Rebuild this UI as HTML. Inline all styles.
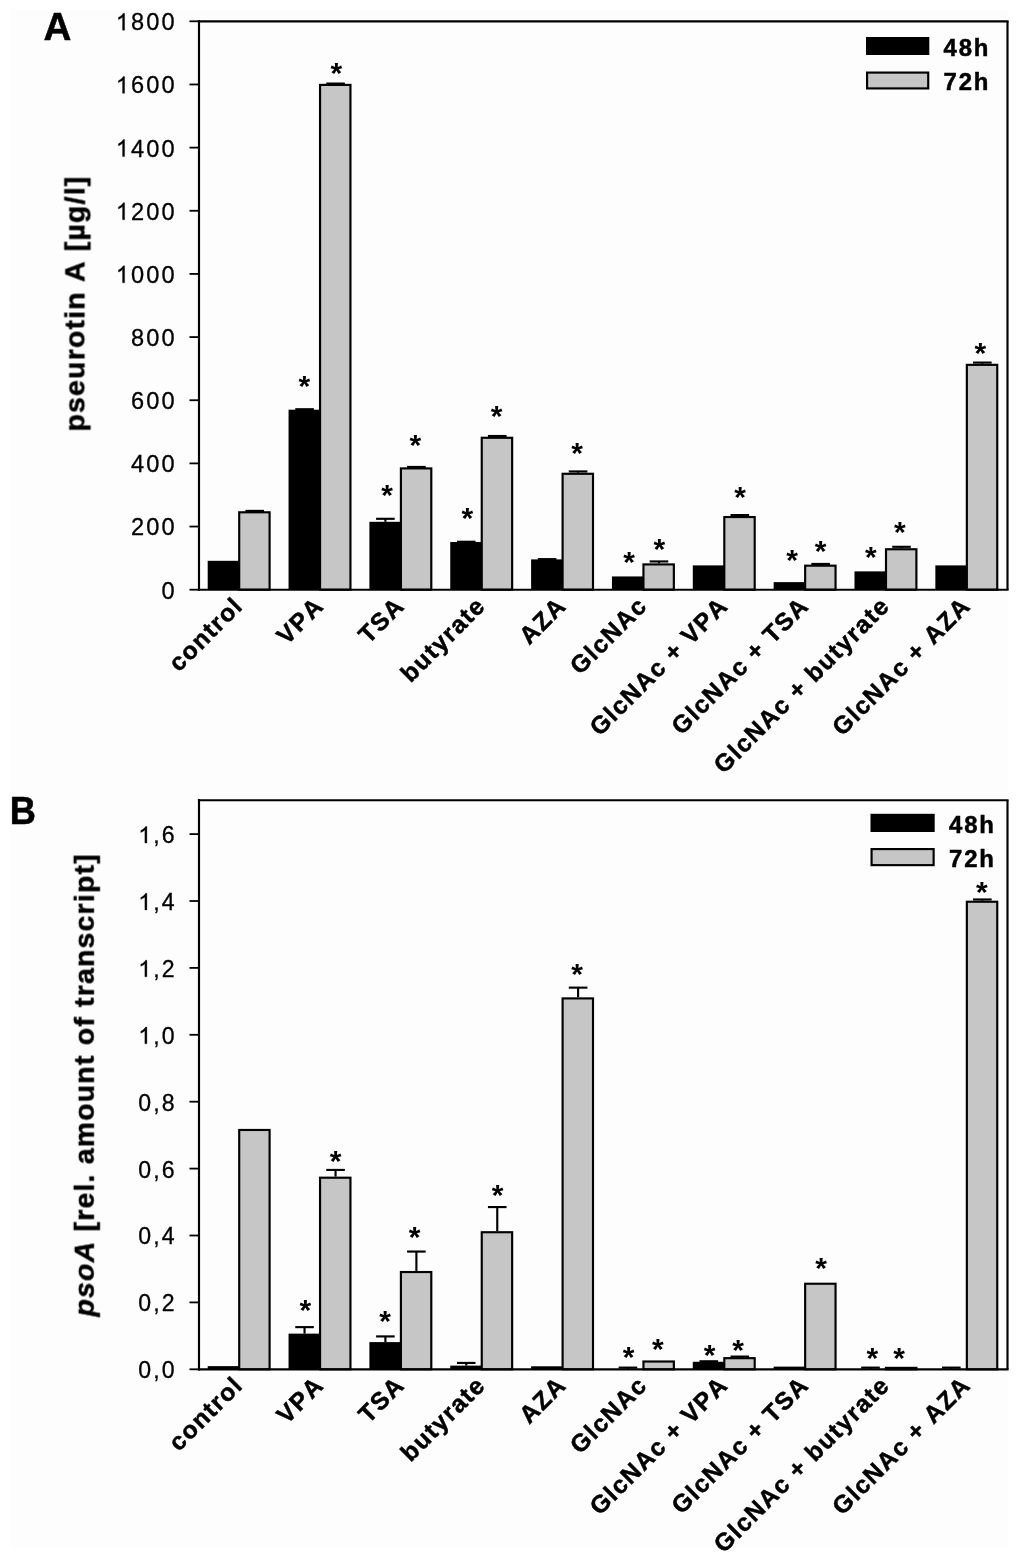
<!DOCTYPE html>
<html><head><meta charset="utf-8"><title>Figure</title>
<style>html,body{margin:0;padding:0;background:#fff;}svg{display:block;}</style>
</head><body>
<svg width="1024" height="1557" viewBox="0 0 1024 1557" font-family="'Liberation Sans', sans-serif" fill="#000" style="font-kerning:none">
<rect x="0" y="0" width="1024" height="1557" fill="#fff"/>
<rect x="9.4" y="9" width="999.2" height="1539.4" fill="#fdfdfd"/>
<defs><filter id="b" x="0" y="0" width="1024" height="1557" filterUnits="userSpaceOnUse"><feGaussianBlur stdDeviation="0.5"/></filter></defs>
<g filter="url(#b)">
<rect x="207.70" y="560.81" width="32.2" height="28.89" fill="#000"/>
<rect x="239.20" y="512.30" width="30.40" height="77.40" fill="#c6c6c6" stroke="#000" stroke-width="2.15"/>
<line x1="254.70" y1="511.23" x2="254.70" y2="510.91" stroke="#000" stroke-width="2.15"/>
<line x1="245.40" y1="510.91" x2="264.00" y2="510.91" stroke="#000" stroke-width="2.15"/>
<rect x="288.55" y="409.71" width="32.2" height="179.99" fill="#000"/>
<rect x="320.05" y="84.90" width="30.40" height="504.80" fill="#c6c6c6" stroke="#000" stroke-width="2.15"/>
<line x1="304.55" y1="409.71" x2="304.55" y2="409.23" stroke="#000" stroke-width="2.15"/>
<line x1="295.25" y1="409.23" x2="313.85" y2="409.23" stroke="#000" stroke-width="2.15"/>
<line x1="335.55" y1="83.82" x2="335.55" y2="83.57" stroke="#000" stroke-width="2.15"/>
<line x1="326.25" y1="83.57" x2="344.85" y2="83.57" stroke="#000" stroke-width="2.15"/>
<rect x="369.40" y="521.81" width="32.2" height="67.89" fill="#000"/>
<rect x="400.90" y="468.41" width="30.40" height="121.29" fill="#c6c6c6" stroke="#000" stroke-width="2.15"/>
<line x1="385.40" y1="521.81" x2="385.40" y2="518.81" stroke="#000" stroke-width="2.15"/>
<line x1="376.10" y1="518.81" x2="394.70" y2="518.81" stroke="#000" stroke-width="2.15"/>
<line x1="416.40" y1="467.34" x2="416.40" y2="466.96" stroke="#000" stroke-width="2.15"/>
<line x1="407.10" y1="466.96" x2="425.70" y2="466.96" stroke="#000" stroke-width="2.15"/>
<rect x="450.25" y="542.02" width="32.2" height="47.68" fill="#000"/>
<rect x="481.75" y="437.78" width="30.40" height="151.92" fill="#c6c6c6" stroke="#000" stroke-width="2.15"/>
<line x1="466.25" y1="542.02" x2="466.25" y2="541.76" stroke="#000" stroke-width="2.15"/>
<line x1="456.95" y1="541.76" x2="475.55" y2="541.76" stroke="#000" stroke-width="2.15"/>
<line x1="497.25" y1="436.71" x2="497.25" y2="436.01" stroke="#000" stroke-width="2.15"/>
<line x1="487.95" y1="436.01" x2="506.55" y2="436.01" stroke="#000" stroke-width="2.15"/>
<rect x="531.10" y="559.39" width="32.2" height="30.31" fill="#000"/>
<rect x="562.60" y="473.78" width="30.40" height="115.92" fill="#c6c6c6" stroke="#000" stroke-width="2.15"/>
<line x1="547.10" y1="559.39" x2="547.10" y2="559.13" stroke="#000" stroke-width="2.15"/>
<line x1="537.80" y1="559.13" x2="556.40" y2="559.13" stroke="#000" stroke-width="2.15"/>
<line x1="578.10" y1="472.70" x2="578.10" y2="471.44" stroke="#000" stroke-width="2.15"/>
<line x1="568.80" y1="471.44" x2="587.40" y2="471.44" stroke="#000" stroke-width="2.15"/>
<rect x="611.95" y="576.44" width="32.2" height="13.26" fill="#000"/>
<rect x="643.45" y="564.41" width="30.40" height="25.29" fill="#c6c6c6" stroke="#000" stroke-width="2.15"/>
<line x1="658.95" y1="563.33" x2="658.95" y2="561.44" stroke="#000" stroke-width="2.15"/>
<line x1="649.65" y1="561.44" x2="668.25" y2="561.44" stroke="#000" stroke-width="2.15"/>
<rect x="692.80" y="565.39" width="32.2" height="24.31" fill="#000"/>
<rect x="724.30" y="517.04" width="30.40" height="72.66" fill="#c6c6c6" stroke="#000" stroke-width="2.15"/>
<line x1="739.80" y1="515.97" x2="739.80" y2="515.08" stroke="#000" stroke-width="2.15"/>
<line x1="730.50" y1="515.08" x2="749.10" y2="515.08" stroke="#000" stroke-width="2.15"/>
<rect x="773.65" y="582.12" width="32.2" height="7.58" fill="#000"/>
<rect x="805.15" y="565.67" width="30.40" height="24.03" fill="#c6c6c6" stroke="#000" stroke-width="2.15"/>
<line x1="820.65" y1="564.60" x2="820.65" y2="563.96" stroke="#000" stroke-width="2.15"/>
<line x1="811.35" y1="563.96" x2="829.95" y2="563.96" stroke="#000" stroke-width="2.15"/>
<rect x="854.50" y="571.38" width="32.2" height="18.32" fill="#000"/>
<rect x="886.00" y="549.25" width="30.40" height="40.45" fill="#c6c6c6" stroke="#000" stroke-width="2.15"/>
<line x1="901.50" y1="548.18" x2="901.50" y2="546.82" stroke="#000" stroke-width="2.15"/>
<line x1="892.20" y1="546.82" x2="910.80" y2="546.82" stroke="#000" stroke-width="2.15"/>
<rect x="935.35" y="565.39" width="32.2" height="24.31" fill="#000"/>
<rect x="966.85" y="364.84" width="30.40" height="224.86" fill="#c6c6c6" stroke="#000" stroke-width="2.15"/>
<line x1="982.35" y1="363.76" x2="982.35" y2="362.59" stroke="#000" stroke-width="2.15"/>
<line x1="973.05" y1="362.59" x2="991.65" y2="362.59" stroke="#000" stroke-width="2.15"/>
<text x="304.30" y="395.90" font-size="30" font-weight="bold" text-anchor="middle">*</text>
<text x="387.20" y="505.30" font-size="30" font-weight="bold" text-anchor="middle">*</text>
<text x="467.30" y="528.20" font-size="30" font-weight="bold" text-anchor="middle">*</text>
<text x="629.00" y="572.10" font-size="30" font-weight="bold" text-anchor="middle">*</text>
<text x="792.20" y="570.20" font-size="30" font-weight="bold" text-anchor="middle">*</text>
<text x="870.80" y="567.30" font-size="30" font-weight="bold" text-anchor="middle">*</text>
<text x="336.30" y="83.20" font-size="30" font-weight="bold" text-anchor="middle">*</text>
<text x="415.30" y="454.60" font-size="30" font-weight="bold" text-anchor="middle">*</text>
<text x="496.70" y="426.30" font-size="30" font-weight="bold" text-anchor="middle">*</text>
<text x="577.20" y="463.40" font-size="30" font-weight="bold" text-anchor="middle">*</text>
<text x="659.30" y="558.70" font-size="30" font-weight="bold" text-anchor="middle">*</text>
<text x="740.20" y="507.30" font-size="30" font-weight="bold" text-anchor="middle">*</text>
<text x="820.70" y="560.70" font-size="30" font-weight="bold" text-anchor="middle">*</text>
<text x="899.90" y="542.30" font-size="30" font-weight="bold" text-anchor="middle">*</text>
<text x="980.30" y="363.30" font-size="30" font-weight="bold" text-anchor="middle">*</text>
<line x1="199.00" y1="20.23" x2="199.00" y2="590.78" stroke="#000" stroke-width="2.15"/>
<line x1="197.93" y1="589.70" x2="1008.58" y2="589.70" stroke="#000" stroke-width="2.15"/>
<line x1="189.50" y1="589.70" x2="199.00" y2="589.70" stroke="#000" stroke-width="1.8"/>
<line x1="197.93" y1="21.30" x2="1008.58" y2="21.30" stroke="#000" stroke-width="2.15"/>
<line x1="189.50" y1="21.30" x2="199.00" y2="21.30" stroke="#000" stroke-width="1.8"/>
<line x1="1007.50" y1="21.30" x2="1007.50" y2="589.70" stroke="#000" stroke-width="2.15"/>
<text x="161.48" y="598.60" font-size="23.6" stroke="#000" stroke-width="0.3">0</text>
<line x1="189.50" y1="526.54" x2="199.00" y2="526.54" stroke="#000" stroke-width="1.8"/>
<text x="161.48" y="535.44" font-size="23.6" stroke="#000" stroke-width="0.3">0</text>
<text x="146.26" y="535.44" font-size="23.6" stroke="#000" stroke-width="0.3">0</text>
<text x="131.04" y="535.44" font-size="23.6" stroke="#000" stroke-width="0.3">2</text>
<line x1="189.50" y1="463.39" x2="199.00" y2="463.39" stroke="#000" stroke-width="1.8"/>
<text x="161.48" y="472.29" font-size="23.6" stroke="#000" stroke-width="0.3">0</text>
<text x="146.26" y="472.29" font-size="23.6" stroke="#000" stroke-width="0.3">0</text>
<text x="131.04" y="472.29" font-size="23.6" stroke="#000" stroke-width="0.3">4</text>
<line x1="189.50" y1="400.23" x2="199.00" y2="400.23" stroke="#000" stroke-width="1.8"/>
<text x="161.48" y="409.13" font-size="23.6" stroke="#000" stroke-width="0.3">0</text>
<text x="146.26" y="409.13" font-size="23.6" stroke="#000" stroke-width="0.3">0</text>
<text x="131.04" y="409.13" font-size="23.6" stroke="#000" stroke-width="0.3">6</text>
<line x1="189.50" y1="337.08" x2="199.00" y2="337.08" stroke="#000" stroke-width="1.8"/>
<text x="161.48" y="345.98" font-size="23.6" stroke="#000" stroke-width="0.3">0</text>
<text x="146.26" y="345.98" font-size="23.6" stroke="#000" stroke-width="0.3">0</text>
<text x="131.04" y="345.98" font-size="23.6" stroke="#000" stroke-width="0.3">8</text>
<line x1="189.50" y1="273.92" x2="199.00" y2="273.92" stroke="#000" stroke-width="1.8"/>
<text x="161.48" y="282.82" font-size="23.6" stroke="#000" stroke-width="0.3">0</text>
<text x="146.26" y="282.82" font-size="23.6" stroke="#000" stroke-width="0.3">0</text>
<text x="131.04" y="282.82" font-size="23.6" stroke="#000" stroke-width="0.3">0</text>
<path d="M124.61 282.82 L122.53 282.82 L122.53 269.60 Q121.78 270.32 120.57 271.03 Q119.35 271.75 118.38 272.11 L118.38 270.10 Q120.12 269.28 121.43 268.12 Q122.73 266.95 123.27 265.86 L124.61 265.86 Z" stroke="#000" stroke-width="0.3"/>
<line x1="189.50" y1="210.77" x2="199.00" y2="210.77" stroke="#000" stroke-width="1.8"/>
<text x="161.48" y="219.67" font-size="23.6" stroke="#000" stroke-width="0.3">0</text>
<text x="146.26" y="219.67" font-size="23.6" stroke="#000" stroke-width="0.3">0</text>
<text x="131.04" y="219.67" font-size="23.6" stroke="#000" stroke-width="0.3">2</text>
<path d="M124.61 219.67 L122.53 219.67 L122.53 206.45 Q121.78 207.16 120.57 207.88 Q119.35 208.59 118.38 208.95 L118.38 206.94 Q120.12 206.13 121.43 204.96 Q122.73 203.80 123.27 202.70 L124.61 202.70 Z" stroke="#000" stroke-width="0.3"/>
<line x1="189.50" y1="147.61" x2="199.00" y2="147.61" stroke="#000" stroke-width="1.8"/>
<text x="161.48" y="156.51" font-size="23.6" stroke="#000" stroke-width="0.3">0</text>
<text x="146.26" y="156.51" font-size="23.6" stroke="#000" stroke-width="0.3">0</text>
<text x="131.04" y="156.51" font-size="23.6" stroke="#000" stroke-width="0.3">4</text>
<path d="M124.61 156.51 L122.53 156.51 L122.53 143.29 Q121.78 144.01 120.57 144.72 Q119.35 145.44 118.38 145.79 L118.38 143.79 Q120.12 142.97 121.43 141.81 Q122.73 140.64 123.27 139.55 L124.61 139.55 Z" stroke="#000" stroke-width="0.3"/>
<line x1="189.50" y1="84.46" x2="199.00" y2="84.46" stroke="#000" stroke-width="1.8"/>
<text x="161.48" y="93.36" font-size="23.6" stroke="#000" stroke-width="0.3">0</text>
<text x="146.26" y="93.36" font-size="23.6" stroke="#000" stroke-width="0.3">0</text>
<text x="131.04" y="93.36" font-size="23.6" stroke="#000" stroke-width="0.3">6</text>
<path d="M124.61 93.36 L122.53 93.36 L122.53 80.14 Q121.78 80.85 120.57 81.57 Q119.35 82.28 118.38 82.64 L118.38 80.63 Q120.12 79.82 121.43 78.65 Q122.73 77.49 123.27 76.39 L124.61 76.39 Z" stroke="#000" stroke-width="0.3"/>
<text x="161.48" y="30.20" font-size="23.6" stroke="#000" stroke-width="0.3">0</text>
<text x="146.26" y="30.20" font-size="23.6" stroke="#000" stroke-width="0.3">0</text>
<text x="131.04" y="30.20" font-size="23.6" stroke="#000" stroke-width="0.3">8</text>
<path d="M124.61 30.20 L122.53 30.20 L122.53 16.98 Q121.78 17.70 120.57 18.41 Q119.35 19.13 118.38 19.48 L118.38 17.48 Q120.12 16.66 121.43 15.50 Q122.73 14.33 123.27 13.24 L124.61 13.24 Z" stroke="#000" stroke-width="0.3"/>
<rect x="866" y="37" width="63.3" height="18" fill="#000"/>
<rect x="867.075" y="72.575" width="61.15" height="15.85" fill="#c6c6c6" stroke="#000" stroke-width="2.15"/>
<text transform="translate(943.50,55.60) scale(1.03,1)" font-size="23.2" font-weight="bold" stroke="#000" stroke-width="0.5" text-anchor="start" letter-spacing="1.8">48h</text>
<text transform="translate(943.50,90.10) scale(1.03,1)" font-size="23.2" font-weight="bold" stroke="#000" stroke-width="0.5" text-anchor="start" letter-spacing="1.8">72h</text>
<text transform="translate(84.40,431.50) rotate(-90)" font-size="28.4" font-weight="bold" stroke="#000" stroke-width="0.5" text-anchor="start" letter-spacing="1.22">pseurotin A [µg/l]</text>
<text transform="translate(43.60,40.00)" font-size="38.6" font-weight="bold" stroke="#000" stroke-width="0.5" text-anchor="start">A</text>
<text transform="translate(244.39,607.21) rotate(-45)" font-size="24.5" font-weight="bold" stroke="#000" stroke-width="0.5" text-anchor="end" letter-spacing="1.4">control</text>
<text transform="translate(325.24,607.21) rotate(-45)" font-size="24.5" font-weight="bold" stroke="#000" stroke-width="0.5" text-anchor="end" letter-spacing="1.4">VPA</text>
<text transform="translate(406.09,607.21) rotate(-45)" font-size="24.5" font-weight="bold" stroke="#000" stroke-width="0.5" text-anchor="end" letter-spacing="1.4">TSA</text>
<text transform="translate(486.94,607.21) rotate(-45)" font-size="24.5" font-weight="bold" stroke="#000" stroke-width="0.5" text-anchor="end" letter-spacing="1.4">butyrate</text>
<text transform="translate(567.79,607.21) rotate(-45)" font-size="24.5" font-weight="bold" stroke="#000" stroke-width="0.5" text-anchor="end" letter-spacing="1.4">AZA</text>
<text transform="translate(648.64,607.21) rotate(-45)" font-size="24.5" font-weight="bold" stroke="#000" stroke-width="0.5" text-anchor="end" letter-spacing="1.4">GlcNAc</text>
<text transform="translate(729.49,607.21) rotate(-45)" font-size="24.5" font-weight="bold" stroke="#000" stroke-width="0.5" text-anchor="end" letter-spacing="1.4">GlcNAc + VPA</text>
<text transform="translate(810.34,607.21) rotate(-45)" font-size="24.5" font-weight="bold" stroke="#000" stroke-width="0.5" text-anchor="end" letter-spacing="1.4">GlcNAc + TSA</text>
<text transform="translate(891.19,607.21) rotate(-45)" font-size="24.5" font-weight="bold" stroke="#000" stroke-width="0.5" text-anchor="end" letter-spacing="1.4">GlcNAc + butyrate</text>
<text transform="translate(972.04,607.21) rotate(-45)" font-size="24.5" font-weight="bold" stroke="#000" stroke-width="0.5" text-anchor="end" letter-spacing="1.4">GlcNAc + AZA</text>
<rect x="207.70" y="1366.12" width="32.2" height="3.18" fill="#000"/>
<rect x="239.20" y="1129.97" width="30.40" height="239.33" fill="#c6c6c6" stroke="#000" stroke-width="2.15"/>
<rect x="288.55" y="1333.64" width="32.2" height="35.66" fill="#000"/>
<rect x="320.05" y="1177.70" width="30.40" height="191.60" fill="#c6c6c6" stroke="#000" stroke-width="2.15"/>
<line x1="304.55" y1="1333.64" x2="304.55" y2="1327.12" stroke="#000" stroke-width="2.15"/>
<line x1="295.25" y1="1327.12" x2="313.85" y2="1327.12" stroke="#000" stroke-width="2.15"/>
<line x1="335.55" y1="1176.63" x2="335.55" y2="1169.94" stroke="#000" stroke-width="2.15"/>
<line x1="326.25" y1="1169.94" x2="344.85" y2="1169.94" stroke="#000" stroke-width="2.15"/>
<rect x="369.40" y="1342.11" width="32.2" height="27.19" fill="#000"/>
<rect x="400.90" y="1272.03" width="30.40" height="97.27" fill="#c6c6c6" stroke="#000" stroke-width="2.15"/>
<line x1="385.40" y1="1342.11" x2="385.40" y2="1336.42" stroke="#000" stroke-width="2.15"/>
<line x1="376.10" y1="1336.42" x2="394.70" y2="1336.42" stroke="#000" stroke-width="2.15"/>
<line x1="416.40" y1="1270.96" x2="416.40" y2="1251.56" stroke="#000" stroke-width="2.15"/>
<line x1="407.10" y1="1251.56" x2="425.70" y2="1251.56" stroke="#000" stroke-width="2.15"/>
<rect x="450.25" y="1365.62" width="32.2" height="3.68" fill="#000"/>
<rect x="481.75" y="1232.23" width="30.40" height="137.07" fill="#c6c6c6" stroke="#000" stroke-width="2.15"/>
<line x1="466.25" y1="1365.62" x2="466.25" y2="1362.94" stroke="#000" stroke-width="2.15"/>
<line x1="456.95" y1="1362.94" x2="475.55" y2="1362.94" stroke="#000" stroke-width="2.15"/>
<line x1="497.25" y1="1231.15" x2="497.25" y2="1207.07" stroke="#000" stroke-width="2.15"/>
<line x1="487.95" y1="1207.07" x2="506.55" y2="1207.07" stroke="#000" stroke-width="2.15"/>
<rect x="531.10" y="1366.29" width="32.2" height="3.01" fill="#000"/>
<rect x="562.60" y="998.41" width="30.40" height="370.89" fill="#c6c6c6" stroke="#000" stroke-width="2.15"/>
<line x1="578.10" y1="997.34" x2="578.10" y2="987.64" stroke="#000" stroke-width="2.15"/>
<line x1="568.80" y1="987.64" x2="587.40" y2="987.64" stroke="#000" stroke-width="2.15"/>
<rect x="611.95" y="1369.30" width="32.2" height="0.00" fill="#000"/>
<rect x="643.45" y="1361.51" width="30.40" height="7.79" fill="#c6c6c6" stroke="#000" stroke-width="2.15"/>
<line x1="627.95" y1="1369.30" x2="627.95" y2="1367.63" stroke="#000" stroke-width="2.15"/>
<line x1="618.65" y1="1367.63" x2="637.25" y2="1367.63" stroke="#000" stroke-width="2.15"/>
<rect x="692.80" y="1361.77" width="32.2" height="7.53" fill="#000"/>
<rect x="724.30" y="1358.17" width="30.40" height="11.13" fill="#c6c6c6" stroke="#000" stroke-width="2.15"/>
<line x1="708.80" y1="1361.77" x2="708.80" y2="1361.27" stroke="#000" stroke-width="2.15"/>
<line x1="699.50" y1="1361.27" x2="718.10" y2="1361.27" stroke="#000" stroke-width="2.15"/>
<line x1="739.80" y1="1357.09" x2="739.80" y2="1356.59" stroke="#000" stroke-width="2.15"/>
<line x1="730.50" y1="1356.59" x2="749.10" y2="1356.59" stroke="#000" stroke-width="2.15"/>
<rect x="773.65" y="1366.62" width="32.2" height="2.68" fill="#000"/>
<rect x="805.15" y="1283.74" width="30.40" height="85.56" fill="#c6c6c6" stroke="#000" stroke-width="2.15"/>
<rect x="854.50" y="1369.30" width="32.2" height="0.00" fill="#000"/>
<rect x="886.00" y="1367.87" width="30.40" height="1.43" fill="#c6c6c6" stroke="#000" stroke-width="2.15"/>
<line x1="870.50" y1="1369.30" x2="870.50" y2="1367.63" stroke="#000" stroke-width="2.15"/>
<line x1="861.20" y1="1367.63" x2="879.80" y2="1367.63" stroke="#000" stroke-width="2.15"/>
<rect x="935.35" y="1369.30" width="32.2" height="0.00" fill="#000"/>
<rect x="966.85" y="901.74" width="30.40" height="467.56" fill="#c6c6c6" stroke="#000" stroke-width="2.15"/>
<line x1="951.35" y1="1369.30" x2="951.35" y2="1367.63" stroke="#000" stroke-width="2.15"/>
<line x1="942.05" y1="1367.63" x2="960.65" y2="1367.63" stroke="#000" stroke-width="2.15"/>
<line x1="982.35" y1="900.67" x2="982.35" y2="899.49" stroke="#000" stroke-width="2.15"/>
<line x1="973.05" y1="899.49" x2="991.65" y2="899.49" stroke="#000" stroke-width="2.15"/>
<text x="305.30" y="1320.00" font-size="30" font-weight="bold" text-anchor="middle">*</text>
<text x="385.00" y="1330.60" font-size="30" font-weight="bold" text-anchor="middle">*</text>
<text x="628.70" y="1367.40" font-size="30" font-weight="bold" text-anchor="middle">*</text>
<text x="709.50" y="1364.60" font-size="30" font-weight="bold" text-anchor="middle">*</text>
<text x="872.30" y="1367.70" font-size="30" font-weight="bold" text-anchor="middle">*</text>
<text x="335.60" y="1170.90" font-size="30" font-weight="bold" text-anchor="middle">*</text>
<text x="414.70" y="1246.80" font-size="30" font-weight="bold" text-anchor="middle">*</text>
<text x="497.50" y="1205.00" font-size="30" font-weight="bold" text-anchor="middle">*</text>
<text x="577.20" y="984.30" font-size="30" font-weight="bold" text-anchor="middle">*</text>
<text x="657.80" y="1359.30" font-size="30" font-weight="bold" text-anchor="middle">*</text>
<text x="738.10" y="1360.20" font-size="30" font-weight="bold" text-anchor="middle">*</text>
<text x="821.20" y="1277.50" font-size="30" font-weight="bold" text-anchor="middle">*</text>
<text x="899.00" y="1367.70" font-size="30" font-weight="bold" text-anchor="middle">*</text>
<text x="981.90" y="901.70" font-size="30" font-weight="bold" text-anchor="middle">*</text>
<line x1="199.00" y1="799.12" x2="199.00" y2="1370.38" stroke="#000" stroke-width="2.15"/>
<line x1="197.93" y1="1369.30" x2="1008.58" y2="1369.30" stroke="#000" stroke-width="2.15"/>
<line x1="189.50" y1="1369.30" x2="199.00" y2="1369.30" stroke="#000" stroke-width="1.8"/>
<line x1="197.93" y1="800.20" x2="1008.58" y2="800.20" stroke="#000" stroke-width="2.15"/>
<line x1="1007.50" y1="800.20" x2="1007.50" y2="1369.30" stroke="#000" stroke-width="2.15"/>
<text x="161.76" y="1378.20" font-size="23.1" stroke="#000" stroke-width="0.3">0</text>
<text x="153.23" y="1378.20" font-size="23.1" stroke="#000" stroke-width="0.3">,</text>
<text x="138.29" y="1378.20" font-size="23.1" stroke="#000" stroke-width="0.3">0</text>
<line x1="189.50" y1="1302.40" x2="199.00" y2="1302.40" stroke="#000" stroke-width="1.8"/>
<text x="161.76" y="1311.30" font-size="23.1" stroke="#000" stroke-width="0.3">2</text>
<text x="153.23" y="1311.30" font-size="23.1" stroke="#000" stroke-width="0.3">,</text>
<text x="138.29" y="1311.30" font-size="23.1" stroke="#000" stroke-width="0.3">0</text>
<line x1="189.50" y1="1235.50" x2="199.00" y2="1235.50" stroke="#000" stroke-width="1.8"/>
<text x="161.76" y="1244.40" font-size="23.1" stroke="#000" stroke-width="0.3">4</text>
<text x="153.23" y="1244.40" font-size="23.1" stroke="#000" stroke-width="0.3">,</text>
<text x="138.29" y="1244.40" font-size="23.1" stroke="#000" stroke-width="0.3">0</text>
<line x1="189.50" y1="1168.60" x2="199.00" y2="1168.60" stroke="#000" stroke-width="1.8"/>
<text x="161.76" y="1177.50" font-size="23.1" stroke="#000" stroke-width="0.3">6</text>
<text x="153.23" y="1177.50" font-size="23.1" stroke="#000" stroke-width="0.3">,</text>
<text x="138.29" y="1177.50" font-size="23.1" stroke="#000" stroke-width="0.3">0</text>
<line x1="189.50" y1="1101.70" x2="199.00" y2="1101.70" stroke="#000" stroke-width="1.8"/>
<text x="161.76" y="1110.60" font-size="23.1" stroke="#000" stroke-width="0.3">8</text>
<text x="153.23" y="1110.60" font-size="23.1" stroke="#000" stroke-width="0.3">,</text>
<text x="138.29" y="1110.60" font-size="23.1" stroke="#000" stroke-width="0.3">0</text>
<line x1="189.50" y1="1034.80" x2="199.00" y2="1034.80" stroke="#000" stroke-width="1.8"/>
<text x="161.76" y="1043.70" font-size="23.1" stroke="#000" stroke-width="0.3">0</text>
<text x="153.23" y="1043.70" font-size="23.1" stroke="#000" stroke-width="0.3">,</text>
<path d="M146.90 1043.70 L144.87 1043.70 L144.87 1030.76 Q144.13 1031.46 142.94 1032.16 Q141.75 1032.86 140.81 1033.21 L140.81 1031.25 Q142.51 1030.45 143.78 1029.31 Q145.06 1028.17 145.59 1027.10 L146.90 1027.10 Z" stroke="#000" stroke-width="0.3"/>
<line x1="189.50" y1="967.90" x2="199.00" y2="967.90" stroke="#000" stroke-width="1.8"/>
<text x="161.76" y="976.80" font-size="23.1" stroke="#000" stroke-width="0.3">2</text>
<text x="153.23" y="976.80" font-size="23.1" stroke="#000" stroke-width="0.3">,</text>
<path d="M146.90 976.80 L144.87 976.80 L144.87 963.86 Q144.13 964.56 142.94 965.26 Q141.75 965.96 140.81 966.31 L140.81 964.35 Q142.51 963.55 143.78 962.41 Q145.06 961.27 145.59 960.20 L146.90 960.20 Z" stroke="#000" stroke-width="0.3"/>
<line x1="189.50" y1="901.00" x2="199.00" y2="901.00" stroke="#000" stroke-width="1.8"/>
<text x="161.76" y="909.90" font-size="23.1" stroke="#000" stroke-width="0.3">4</text>
<text x="153.23" y="909.90" font-size="23.1" stroke="#000" stroke-width="0.3">,</text>
<path d="M146.90 909.90 L144.87 909.90 L144.87 896.96 Q144.13 897.66 142.94 898.36 Q141.75 899.06 140.81 899.41 L140.81 897.45 Q142.51 896.65 143.78 895.51 Q145.06 894.37 145.59 893.30 L146.90 893.30 Z" stroke="#000" stroke-width="0.3"/>
<line x1="189.50" y1="834.10" x2="199.00" y2="834.10" stroke="#000" stroke-width="1.8"/>
<text x="161.76" y="843.00" font-size="23.1" stroke="#000" stroke-width="0.3">6</text>
<text x="153.23" y="843.00" font-size="23.1" stroke="#000" stroke-width="0.3">,</text>
<path d="M146.90 843.00 L144.87 843.00 L144.87 830.06 Q144.13 830.76 142.94 831.46 Q141.75 832.16 140.81 832.51 L140.81 830.55 Q142.51 829.75 143.78 828.61 Q145.06 827.47 145.59 826.40 L146.90 826.40 Z" stroke="#000" stroke-width="0.3"/>
<rect x="870.5" y="813.8" width="64.2" height="18.2" fill="#000"/>
<rect x="871.575" y="849.075" width="62.050000000000004" height="16.05" fill="#c6c6c6" stroke="#000" stroke-width="2.15"/>
<text transform="translate(949.00,832.60) scale(1.03,1)" font-size="23.2" font-weight="bold" stroke="#000" stroke-width="0.5" text-anchor="start" letter-spacing="1.8">48h</text>
<text transform="translate(949.00,866.80) scale(1.03,1)" font-size="23.2" font-weight="bold" stroke="#000" stroke-width="0.5" text-anchor="start" letter-spacing="1.8">72h</text>
<text transform="translate(93.80,1316.50) rotate(-90)" font-size="28.4" font-weight="bold" stroke="#000" stroke-width="0.5" text-anchor="start" letter-spacing="1.22"><tspan font-style="italic">psoA</tspan> [rel. amount of transcript]</text>
<text transform="translate(9.70,823.60) scale(0.94,1)" font-size="38.6" font-weight="bold" stroke="#000" stroke-width="0.5" text-anchor="start">B</text>
<text transform="translate(244.39,1386.51) rotate(-45)" font-size="24.5" font-weight="bold" stroke="#000" stroke-width="0.5" text-anchor="end" letter-spacing="1.4">control</text>
<text transform="translate(325.24,1386.51) rotate(-45)" font-size="24.5" font-weight="bold" stroke="#000" stroke-width="0.5" text-anchor="end" letter-spacing="1.4">VPA</text>
<text transform="translate(406.09,1386.51) rotate(-45)" font-size="24.5" font-weight="bold" stroke="#000" stroke-width="0.5" text-anchor="end" letter-spacing="1.4">TSA</text>
<text transform="translate(486.94,1386.51) rotate(-45)" font-size="24.5" font-weight="bold" stroke="#000" stroke-width="0.5" text-anchor="end" letter-spacing="1.4">butyrate</text>
<text transform="translate(567.79,1386.51) rotate(-45)" font-size="24.5" font-weight="bold" stroke="#000" stroke-width="0.5" text-anchor="end" letter-spacing="1.4">AZA</text>
<text transform="translate(648.64,1386.51) rotate(-45)" font-size="24.5" font-weight="bold" stroke="#000" stroke-width="0.5" text-anchor="end" letter-spacing="1.4">GlcNAc</text>
<text transform="translate(729.49,1386.51) rotate(-45)" font-size="24.5" font-weight="bold" stroke="#000" stroke-width="0.5" text-anchor="end" letter-spacing="1.4">GlcNAc + VPA</text>
<text transform="translate(810.34,1386.51) rotate(-45)" font-size="24.5" font-weight="bold" stroke="#000" stroke-width="0.5" text-anchor="end" letter-spacing="1.4">GlcNAc + TSA</text>
<text transform="translate(891.19,1386.51) rotate(-45)" font-size="24.5" font-weight="bold" stroke="#000" stroke-width="0.5" text-anchor="end" letter-spacing="1.4">GlcNAc + butyrate</text>
<text transform="translate(972.04,1386.51) rotate(-45)" font-size="24.5" font-weight="bold" stroke="#000" stroke-width="0.5" text-anchor="end" letter-spacing="1.4">GlcNAc + AZA</text>
</g>
</svg>
</body></html>
